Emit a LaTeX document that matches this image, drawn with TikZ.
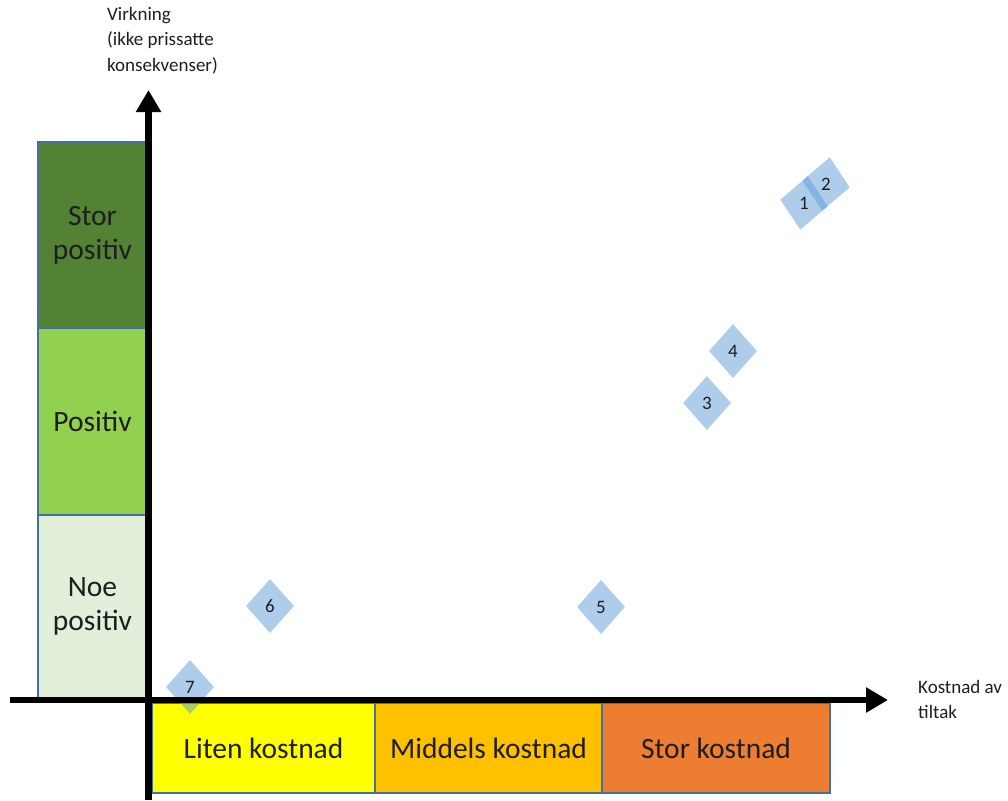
\documentclass[tikz,border=0pt]{standalone}
\usepackage{fontspec}
\setmainfont{Carlito}
\usepackage{graphicx}
\usetikzlibrary{arrows.meta,shapes.geometric}
\definecolor{txt}{HTML}{1E1E1E}
\definecolor{outl}{HTML}{41719C}
\definecolor{cStor}{HTML}{548235}
\definecolor{cPos}{HTML}{92D050}
\definecolor{cNoe}{HTML}{E2EFDA}
\definecolor{cLiten}{HTML}{FFFF00}
\definecolor{cMid}{HTML}{FFC000}
\definecolor{cStorK}{HTML}{ED7D31}
\definecolor{dia}{HTML}{5B9BD5}
\begin{document}
\begin{tikzpicture}[x=1pt,y=-1pt,
  catbox/.style={draw=outl,line width=1.3pt,inner sep=0pt,align=center,text=txt,
    font=\fontsize{29.5}{34}\selectfont},
  marker/.style={shape=diamond,fill=dia,fill opacity=0.5,text opacity=1,draw=none,
    minimum width=48pt,minimum height=54pt,inner sep=0pt,text=txt,
    font=\fontsize{19}{22}\selectfont},
  axislabel/.style={anchor=north west,inner sep=0pt,align=left,text=txt,
    font=\fontsize{19}{25.5}\selectfont},
  axisline/.style={line width=6.5pt,-{Triangle[length=22pt,width=24pt]}}
]
\useasboundingbox (0,0) rectangle (1008,800);

% vertical categories
\node[catbox,fill=cStor,minimum width=109pt,minimum height=186pt] (sp) at (92.5,235) {Stor\\positiv};
\node[catbox,fill=cPos,minimum width=109pt,minimum height=187pt] (po) at (92.5,421.5) {Positiv};
\node[catbox,fill=cNoe,minimum width=109pt,minimum height=183pt] (np) at (92.5,606.5) {Noe\\positiv};

% horizontal categories
\node[catbox,fill=cLiten,minimum width=223pt,minimum height=90pt] (lk) at (263.5,748) {Liten kostnad};
\node[catbox,fill=cMid,minimum width=227pt,minimum height=90pt] (mk) at (488.5,748) {Middels kostnad};
\node[catbox,fill=cStorK,minimum width=228pt,minimum height=90pt] (sk) at (716,748) {Stor kostnad};

% markers
\node[marker,rotate=-8] (d1) at (804,203) {\rotatebox{8}{1}};
\node[marker,rotate=-8] (d2) at (826,184) {\rotatebox{8}{2}};
\node[marker] (d3) at (707,403) {3};
\node[marker] (d4) at (733,351) {4};
\node[marker] (d5) at (601,607) {5};
\node[marker] (d6) at (270,606) {6};
\node[marker] (d7) at (190,687) {7};

% axes
\coordinate (yb) at (148.5,800);
\coordinate (yt) at (148.5,90);
\coordinate (xl) at (10,700);
\coordinate (xr) at (888,700);
\draw[axisline] (yb) -- (yt);
\draw[axisline] (xl) -- (xr);

% axis labels
\node[axislabel] (ylab) at (107,7) {Virkning\\(ikke prissatte\\konsekvenser)};
\node[axislabel] (xlab) at (918,680) {Kostnad av\\tiltak};
\end{tikzpicture}
\end{document}
